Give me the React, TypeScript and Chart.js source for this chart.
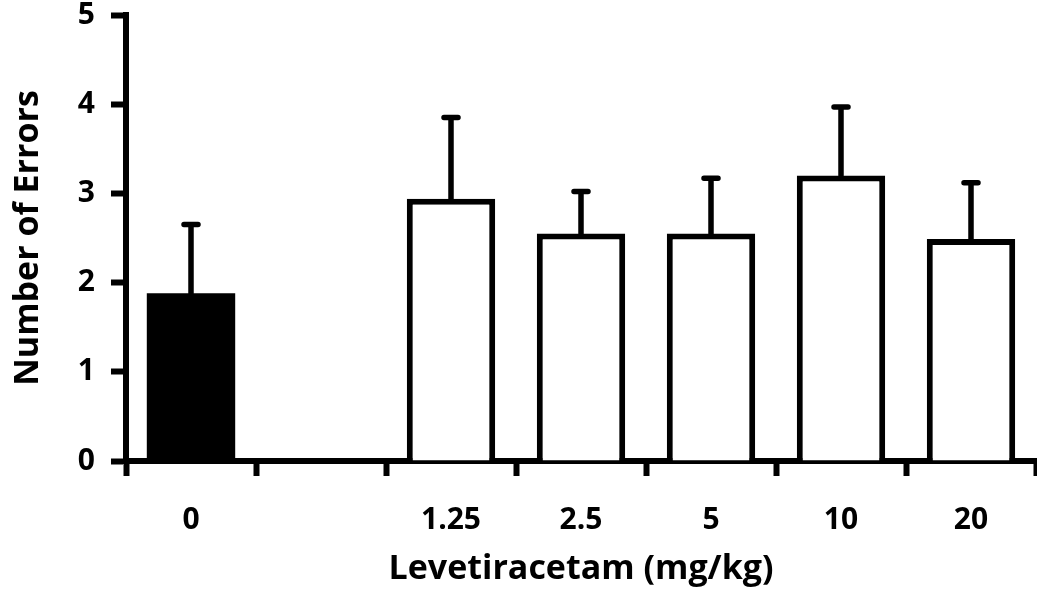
import React, { useEffect, useRef } from "react";
import { Chart, registerables } from "chart.js";

Chart.register(...registerables);

const categories = ["0", "", "1.25", "2.5", "5", "10", "20"];
const meanErrors = [1.88, null, 2.94, 2.55, 2.55, 3.2, 2.49];
const semErrors = [0.77, null, 0.91, 0.47, 0.62, 0.77, 0.63];
const barFills = ["#000000", "#ffffff", "#ffffff", "#ffffff", "#ffffff", "#ffffff", "#ffffff"];
const barBorders = [0, 6, 6, 6, 6, 6, 6];
const yTicks = [0, 1, 2, 3, 4, 5];

const FONT = "'Open Sans', 'DejaVu Sans', sans-serif";

const errorBarPlugin = {
  id: "errorBars",
  afterDatasetsDraw(chart: any) {
    const meta = chart.getDatasetMeta(0);
    const y = chart.scales.y;
    const ctx = chart.ctx;
    ctx.save();
    ctx.strokeStyle = "#000";
    ctx.lineWidth = 5.5;
    ctx.lineCap = "round";
    meta.data.forEach((bar: any, i: number) => {
      const v = meanErrors[i];
      const e = semErrors[i];
      if (v == null || e == null) return;
      const yBar = y.getPixelForValue(v);
      const yTop = y.getPixelForValue(v + e);
      ctx.beginPath();
      ctx.moveTo(bar.x, yBar);
      ctx.lineTo(bar.x, yTop);
      ctx.moveTo(bar.x - 7, yTop);
      ctx.lineTo(bar.x + 7, yTop);
      ctx.stroke();
    });
    ctx.restore();
  },
};

export default function App() {
  const ref = useRef<HTMLCanvasElement | null>(null);
  useEffect(() => {
    document.body.style.margin = "0";
    const canvas = ref.current!;
    const chart = new Chart(canvas, {
      type: "bar",
      data: {
        labels: categories,
        datasets: [
          {
            data: meanErrors as any,
            backgroundColor: barFills,
            borderColor: "#000",
            borderWidth: barBorders,
            borderSkipped: "bottom",
            barPercentage: 0.68,
            categoryPercentage: 1,
          },
        ],
      },
      options: {
        animation: false,
        responsive: false,
        maintainAspectRatio: false,
        layout: { padding: { top: 15, right: 1, left: 0, bottom: 0 } },
        plugins: { legend: { display: false }, tooltip: { enabled: false } },
        scales: {
          x: {
            offset: true,
            grid: {
              display: true,
              offset: true,
              drawOnChartArea: false,
              drawTicks: true,
              tickLength: 15,
              tickWidth: 6,
              tickColor: "#000",
            },
            border: { display: true, color: "#000", width: 6 },
            ticks: {
              color: "#000",
              padding: 26,
              font: { family: FONT, size: 30, weight: "bold" },
              maxRotation: 0,
            },
            title: {
              display: true,
              text: "Levetiracetam (mg/kg)",
              color: "#000",
              font: { family: FONT, size: 34, weight: "bold" },
              padding: { top: 0, bottom: 3 },
            },
            afterFit: (s: any) => {
              s.height = 132;
              s.paddingLeft = 0;
              s.paddingRight = 0;
            },
          },
          y: {
            min: 0,
            max: 5,
            afterBuildTicks: (s: any) => {
              s.ticks = yTicks.map((v) => ({ value: v }));
            },
            grid: {
              display: true,
              drawOnChartArea: false,
              drawTicks: true,
              tickLength: 15,
              tickWidth: 6,
              tickColor: "#000",
            },
            border: { display: true, color: "#000", width: 6 },
            ticks: {
              color: "#000",
              padding: 16,
              font: { family: FONT, size: 30, weight: "bold", lineHeight: 1 },
            },
            title: {
              display: true,
              text: "Number of Errors",
              color: "#000",
              font: { family: FONT, size: 34, weight: "bold" },
              padding: { top: 8, bottom: 0 },
            },
            afterFit: (s: any) => {
              s.width = 126;
              s.paddingTop = 0;
              s.paddingBottom = 0;
            },
          },
        },
      },
      plugins: [errorBarPlugin],
    });
    return () => chart.destroy();
  }, []);
  return (
    <div style={{ width: 1037, height: 593 }}>
      <canvas ref={ref} width={1037} height={593} style={{ display: "block" }} />
    </div>
  );
}
